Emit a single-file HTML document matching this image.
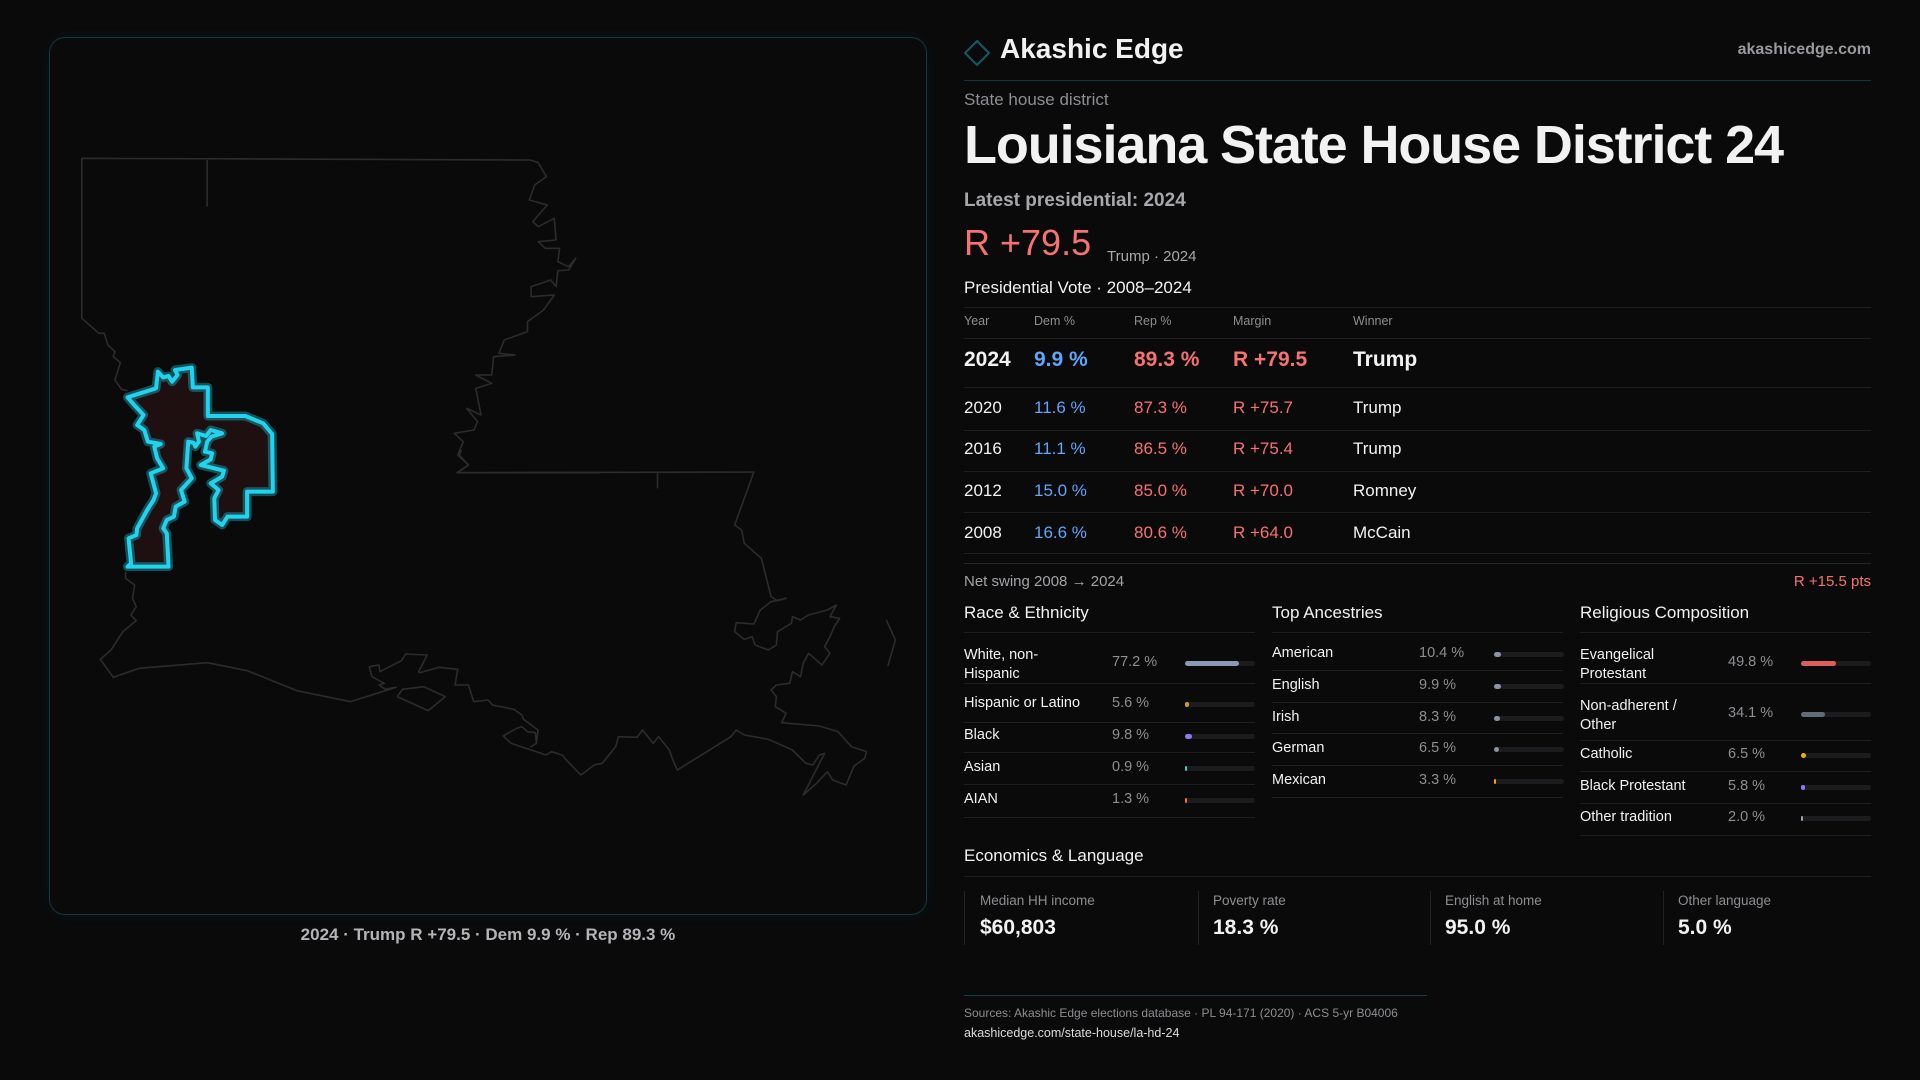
<!DOCTYPE html>
<html><head><meta charset="utf-8"><style>
body{margin:0;width:1920px;height:1080px;background:#0a0a0b;overflow:hidden;font-family:"Liberation Sans",sans-serif;color:#f2f2f2}
.t{position:absolute;white-space:nowrap;line-height:1}
.l{position:absolute;height:1px;background:#1f1f22}
.g{color:#8e8e92}
.b{color:#60a5fa}.r{color:#f87171}
.tr{position:absolute;height:5px;width:70px;background:#1c1c1f;border-radius:3px}
.tr i{position:absolute;left:0;top:0;height:5px;border-radius:3px}
.bx{position:absolute;top:891px;height:54px;border-left:1px solid #222226}
</style></head><body>
<div style="position:absolute;left:49px;top:37px;width:876px;height:876px;border:1px solid #103a40;border-radius:16px;box-shadow:0 0 12px rgba(34,211,238,0.06)"></div>
<svg style="position:absolute;left:0;top:0" width="1920" height="1080">
<defs><filter id="gl" x="-20%" y="-20%" width="140%" height="140%"><feGaussianBlur stdDeviation="3"/></filter></defs>
<g fill="none" stroke="#2c2c2f" stroke-width="1.6" stroke-linejoin="round">
<g transform="translate(40,140) scale(0.35714,0.33333)">
<polyline vector-effect="non-scaling-stroke" points="245,752 228,748 210,720 225,668 205,650 210,635 190,615 180,580 165,580 117,535 117,55 1372,60 1395,68 1418,110 1385,135 1370,180 1420,195 1380,245 1395,260 1440,235 1445,300 1395,305 1415,325 1455,325 1450,365 1480,380 1500,355 1480,390 1450,392 1445,440 1430,420 1375,440 1375,470 1440,465 1410,510 1365,545 1365,575 1300,600 1285,640 1330,645 1270,650 1265,705 1220,705 1265,730 1220,745 1235,825 1195,805 1225,845 1215,870 1160,880 1185,905 1170,945 1200,975 1168,998 1568,998"/>
<polyline vector-effect="non-scaling-stroke" points="468,60 468,200"/>
</g>
<g transform="translate(80,450) scale(0.5357,0.33333)">
<polyline vector-effect="non-scaling-stroke" points="705,68 1258,66 1222,225 1235,240 1240,280 1272,325 1290,440 1302,452 1318,445 1290,455 1270,480 1258,522 1225,518 1222,545 1240,568 1255,560 1260,585 1285,600 1300,585 1302,545 1328,520 1330,500 1345,510 1360,495 1395,480 1412,465 1400,500 1418,505 1408,530 1400,560 1390,590 1400,610 1385,645 1360,610 1350,640 1345,680 1330,665 1325,700 1300,705 1290,720 1300,740 1298,770 1318,790 1310,818 1380,828 1415,845 1440,890 1468,905 1465,925 1445,948 1430,1005 1405,990 1395,965 1375,1000 1350,1035 1390,910 1380,915 1368,945 1355,940 1330,900 1285,868 1240,855 1225,840 1215,860 1165,910 1115,960 1108,935 1100,900 1080,860 1070,880 1050,840 1040,862 1005,860 1000,890 975,940 960,945 935,975 905,925 900,915 880,905 870,915 805,880 790,858 815,835 825,830 835,845 850,848 852,880 842,890 852,880 855,840 828,808 825,795 810,778 770,765 762,750 735,755 725,705 700,705 705,658 670,652 635,668 632,665 640,640 648,615 608,612 600,632 560,665 558,645 540,650 545,680 568,700 558,705 570,718 590,712 505,755 405,722 312,662 238,638 110,655 62,682 38,628 58,600 80,545 105,512 95,495 105,470 98,445 102,405 85,385 85,365"/>
<polyline vector-effect="non-scaling-stroke" points="705,68 725,45 708,15 712,0"/>
<polyline vector-effect="non-scaling-stroke" points="1078,70 1078,115"/>
<polyline vector-effect="non-scaling-stroke" points="592,740 650,782 682,740 642,710 602,718 592,740"/>
<polyline vector-effect="non-scaling-stroke" points="1505,510 1522,570 1508,648"/>
</g>
</g>
<g transform="translate(40,140) scale(0.35714,0.33333)">
<polygon id="d" vector-effect="non-scaling-stroke" fill="#1e0f10" stroke="#22d3ee" stroke-opacity="0.35" stroke-width="9" stroke-linejoin="round" points="245,772 325,745 330,695 345,712 360,708 370,725 385,705 378,690 425,683 428,742 470,742 470,828 575,828 625,850 650,882 652,1055 580,1055 580,1130 525,1130 510,1155 490,1140 488,1075 500,1050 478,1030 510,1010 515,992 450,975 478,958 482,940 462,935 468,905 480,890 510,880 478,870 465,888 440,880 445,905 435,920 430,908 415,905 410,985 425,1015 395,1050 405,1085 380,1100 375,1130 355,1140 345,1165 355,1180 360,1280 245,1280 255,1270 248,1195 270,1185 272,1165 300,1110 318,1080 325,1060 310,1000 345,985 328,955 320,920 338,912 302,905 292,870 272,855 290,825 268,800"/>
<polygon vector-effect="non-scaling-stroke" fill="none" stroke="#22d3ee" stroke-width="4" stroke-linejoin="round" points="245,772 325,745 330,695 345,712 360,708 370,725 385,705 378,690 425,683 428,742 470,742 470,828 575,828 625,850 650,882 652,1055 580,1055 580,1130 525,1130 510,1155 490,1140 488,1075 500,1050 478,1030 510,1010 515,992 450,975 478,958 482,940 462,935 468,905 480,890 510,880 478,870 465,888 440,880 445,905 435,920 430,908 415,905 410,985 425,1015 395,1050 405,1085 380,1100 375,1130 355,1140 345,1165 355,1180 360,1280 245,1280 255,1270 248,1195 270,1185 272,1165 300,1110 318,1080 325,1060 310,1000 345,985 328,955 320,920 338,912 302,905 292,870 272,855 290,825 268,800"/>
</g>
<polygon points="977,41 989,53 977,65 965,53" fill="none" stroke="#135a62" stroke-width="2"/>
</svg>
<div class="t" style="left:49px;width:878px;text-align:center;top:926px;font-size:17px;color:#b4b4b8;font-weight:bold">2024 · Trump R +79.5 · Dem 9.9 % · Rep 89.3 %</div>

<div class="t" style="left:1000px;top:35px;font-size:28px;font-weight:bold">Akashic Edge</div>
<div class="t" style="right:49px;top:42px;font-size:16px;color:#9a9a9e;font-weight:bold">akashicedge.com</div>
<div class="l" style="left:964px;width:907px;top:80px;background:#15353a"></div>
<div class="t g" style="left:964px;top:91px;font-size:17px">State house district</div>
<div class="t" style="left:964px;top:118px;font-size:54px;font-weight:bold;letter-spacing:-1.1px">Louisiana State House District 24</div>
<div class="t" style="left:964px;top:191px;font-size:19px;color:#a8a8ac;font-weight:bold">Latest presidential: 2024</div>
<div class="t r" style="left:964px;top:225px;font-size:36px">R +79.5</div>
<div class="t" style="left:1107px;top:249px;font-size:15px;color:#a8a8ac">Trump · 2024</div>
<div class="t" style="left:964px;top:279px;font-size:17px">Presidential Vote · 2008–2024</div>
<div class="l" style="left:964px;width:907px;top:307px"></div>
<div class="t g" style="left:964px;top:315px;font-size:12.5px">Year</div>
<div class="t g" style="left:1034px;top:315px;font-size:12.5px">Dem %</div>
<div class="t g" style="left:1134px;top:315px;font-size:12.5px">Rep %</div>
<div class="t g" style="left:1233px;top:315px;font-size:12.5px">Margin</div>
<div class="t g" style="left:1353px;top:315px;font-size:12.5px">Winner</div>
<div class="l" style="left:964px;width:907px;top:338px"></div>
<div style="position:absolute;top:349px;left:0;font-size:21px;font-weight:bold">
<div class="t" style="left:964px">2024</div><div class="t b" style="left:1034px">9.9 %</div><div class="t r" style="left:1134px">89.3 %</div><div class="t r" style="left:1233px">R +79.5</div><div class="t" style="left:1353px">Trump</div></div>
<div class="l" style="left:964px;width:907px;top:387px"></div>
<div style="position:absolute;top:399px;left:0;font-size:17px">
<div class="t" style="left:964px">2020</div><div class="t b" style="left:1034px">11.6 %</div><div class="t r" style="left:1134px">87.3 %</div><div class="t r" style="left:1233px">R +75.7</div><div class="t" style="left:1353px">Trump</div></div>
<div class="l" style="left:964px;width:907px;top:430px"></div>
<div style="position:absolute;top:440px;left:0;font-size:17px">
<div class="t" style="left:964px">2016</div><div class="t b" style="left:1034px">11.1 %</div><div class="t r" style="left:1134px">86.5 %</div><div class="t r" style="left:1233px">R +75.4</div><div class="t" style="left:1353px">Trump</div></div>
<div class="l" style="left:964px;width:907px;top:471px"></div>
<div style="position:absolute;top:482px;left:0;font-size:17px">
<div class="t" style="left:964px">2012</div><div class="t b" style="left:1034px">15.0 %</div><div class="t r" style="left:1134px">85.0 %</div><div class="t r" style="left:1233px">R +70.0</div><div class="t" style="left:1353px">Romney</div></div>
<div class="l" style="left:964px;width:907px;top:512px"></div>
<div style="position:absolute;top:524px;left:0;font-size:17px">
<div class="t" style="left:964px">2008</div><div class="t b" style="left:1034px">16.6 %</div><div class="t r" style="left:1134px">80.6 %</div><div class="t r" style="left:1233px">R +64.0</div><div class="t" style="left:1353px">McCain</div></div>
<div class="l" style="left:964px;width:907px;top:553px"></div>
<div class="l" style="left:964px;width:907px;top:563px;background:#26262a"></div>
<div class="t" style="left:964px;top:574px;font-size:15px;color:#a4a4a8">Net swing 2008 → 2024</div>
<div class="t r" style="right:49px;top:574px;font-size:15px">R +15.5 pts</div>

<div class="t" style="left:964px;top:604px;font-size:17px">Race &amp; Ethnicity</div>
<div class="t" style="left:1272px;top:604px;font-size:17px">Top Ancestries</div>
<div class="t" style="left:1580px;top:604px;font-size:17px">Religious Composition</div>
<div class="l" style="left:964px;width:291px;top:632px"></div>
<div class="l" style="left:1272px;width:291px;top:632px"></div>
<div class="l" style="left:1580px;width:291px;top:632px"></div>

<div style="position:absolute;left:0;top:0;font-size:14.5px">
<!-- race -->
<div class="t" style="left:964px;top:646px;line-height:19px">White, non-<br>Hispanic</div>
<div class="t g" style="left:1112px;top:655px">77.2 %</div>
<div class="tr" style="left:1185px;top:661px"><i style="width:54px;background:#8a9ab2"></i></div>
<div class="l" style="left:964px;width:291px;top:683px"></div>
<div class="t" style="left:964px;top:696px">Hispanic or Latino</div>
<div class="t g" style="left:1112px;top:696px">5.6 %</div>
<div class="tr" style="left:1185px;top:702px"><i style="width:4px;background:#d99a0b"></i></div>
<div class="l" style="left:964px;width:291px;top:722px"></div>
<div class="t" style="left:964px;top:728px">Black</div>
<div class="t g" style="left:1112px;top:728px">9.8 %</div>
<div class="tr" style="left:1185px;top:734px"><i style="width:7px;background:#8b7cf6"></i></div>
<div class="l" style="left:964px;width:291px;top:752px"></div>
<div class="t" style="left:964px;top:760px">Asian</div>
<div class="t g" style="left:1112px;top:760px">0.9 %</div>
<div class="tr" style="left:1185px;top:766px"><i style="width:1.5px;background:#2dd4bf"></i></div>
<div class="l" style="left:964px;width:291px;top:784px"></div>
<div class="t" style="left:964px;top:792px">AIAN</div>
<div class="t g" style="left:1112px;top:792px">1.3 %</div>
<div class="tr" style="left:1185px;top:798px"><i style="width:1.5px;background:#f97316"></i></div>
<div class="l" style="left:964px;width:291px;top:817px"></div>
<!-- ancestries -->
<div class="t" style="left:1272px;top:646px">American</div>
<div class="t g" style="left:1419px;top:646px">10.4 %</div>
<div class="tr" style="left:1494px;top:652px"><i style="width:7px;background:#8a93a3"></i></div>
<div class="l" style="left:1272px;width:291px;top:670px"></div>
<div class="t" style="left:1272px;top:678px">English</div>
<div class="t g" style="left:1419px;top:678px">9.9 %</div>
<div class="tr" style="left:1494px;top:684px"><i style="width:7px;background:#8a93a3"></i></div>
<div class="l" style="left:1272px;width:291px;top:702px"></div>
<div class="t" style="left:1272px;top:710px">Irish</div>
<div class="t g" style="left:1419px;top:710px">8.3 %</div>
<div class="tr" style="left:1494px;top:716px"><i style="width:6px;background:#8a93a3"></i></div>
<div class="l" style="left:1272px;width:291px;top:733px"></div>
<div class="t" style="left:1272px;top:741px">German</div>
<div class="t g" style="left:1419px;top:741px">6.5 %</div>
<div class="tr" style="left:1494px;top:747px"><i style="width:5px;background:#8a93a3"></i></div>
<div class="l" style="left:1272px;width:291px;top:765px"></div>
<div class="t" style="left:1272px;top:773px">Mexican</div>
<div class="t g" style="left:1419px;top:773px">3.3 %</div>
<div class="tr" style="left:1494px;top:779px"><i style="width:2px;background:#f59e0b"></i></div>
<div class="l" style="left:1272px;width:291px;top:797px"></div>
<!-- religion -->
<div class="t" style="left:1580px;top:646px;line-height:19px">Evangelical<br>Protestant</div>
<div class="t g" style="left:1728px;top:655px">49.8 %</div>
<div class="tr" style="left:1801px;top:661px"><i style="width:35px;background:#e05d5d"></i></div>
<div class="l" style="left:1580px;width:291px;top:683px"></div>
<div class="t" style="left:1580px;top:697px;line-height:19px">Non-adherent /<br>Other</div>
<div class="t g" style="left:1728px;top:706px">34.1 %</div>
<div class="tr" style="left:1801px;top:712px"><i style="width:24px;background:#646b78"></i></div>
<div class="l" style="left:1580px;width:291px;top:740px"></div>
<div class="t" style="left:1580px;top:747px">Catholic</div>
<div class="t g" style="left:1728px;top:747px">6.5 %</div>
<div class="tr" style="left:1801px;top:753px"><i style="width:5px;background:#eab308"></i></div>
<div class="l" style="left:1580px;width:291px;top:771px"></div>
<div class="t" style="left:1580px;top:779px">Black Protestant</div>
<div class="t g" style="left:1728px;top:779px">5.8 %</div>
<div class="tr" style="left:1801px;top:785px"><i style="width:4px;background:#8b7cf6"></i></div>
<div class="l" style="left:1580px;width:291px;top:803px"></div>
<div class="t" style="left:1580px;top:810px">Other tradition</div>
<div class="t g" style="left:1728px;top:810px">2.0 %</div>
<div class="tr" style="left:1801px;top:816px"><i style="width:1.5px;background:#9ca3af"></i></div>
<div class="l" style="left:1580px;width:291px;top:835px"></div>
</div>

<div class="t" style="left:964px;top:847px;font-size:17px">Economics &amp; Language</div>
<div class="l" style="left:964px;width:907px;top:876px"></div>
<div class="bx" style="left:964px"></div><div class="bx" style="left:1198px"></div><div class="bx" style="left:1430px"></div><div class="bx" style="left:1663px"></div>
<div class="t g" style="left:980px;top:894px;font-size:13.5px">Median HH income</div>
<div class="t g" style="left:1213px;top:894px;font-size:13.5px">Poverty rate</div>
<div class="t g" style="left:1445px;top:894px;font-size:13.5px">English at home</div>
<div class="t g" style="left:1678px;top:894px;font-size:13.5px">Other language</div>
<div class="t" style="left:980px;top:917px;font-size:21px;font-weight:bold">$60,803</div>
<div class="t" style="left:1213px;top:917px;font-size:21px;font-weight:bold">18.3 %</div>
<div class="t" style="left:1445px;top:917px;font-size:21px;font-weight:bold">95.0 %</div>
<div class="t" style="left:1678px;top:917px;font-size:21px;font-weight:bold">5.0 %</div>

<div class="l" style="left:964px;width:463px;top:995px;background:#134045"></div>
<div class="t g" style="left:964px;top:1007px;font-size:12px">Sources: Akashic Edge elections database · PL 94-171 (2020) · ACS 5-yr B04006</div>
<div class="t" style="left:964px;top:1027px;font-size:12.5px;color:#dcdcdc">akashicedge.com/state-house/la-hd-24</div>
</body></html>
